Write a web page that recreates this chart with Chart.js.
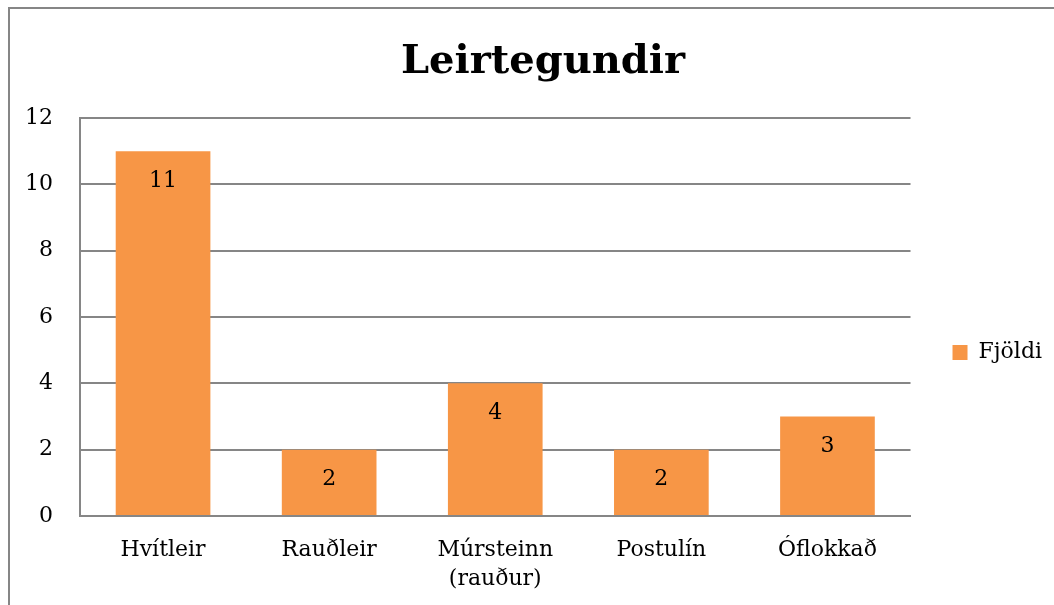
<!DOCTYPE html>
<html>
<head>
<meta charset="utf-8">
<script src="https://cdn.jsdelivr.net/npm/chart.js@4.4.1/dist/chart.umd.min.js"></script>
<style>
  html, body { margin: 0; padding: 0; background: #fff; }
  #wrap { position: relative; width: 1054px; height: 605px; overflow: hidden; }
  #frame { position: absolute; left: 8px; top: 7px; width: 1100px; height: 700px; border: 2px solid #868686; box-sizing: border-box; }
  canvas { position: absolute; left: 0; top: 0; }
</style>
</head>
<body>
<div id="wrap">
  <div id="frame"></div>
  <canvas id="c" width="1054" height="605"></canvas>
</div>
<script>
const categories = ["Hvítleir", "Rauðleir", ["Múrsteinn", "(rauður)"], "Postulín", "Óflokkað"];
const seriesName = "Fjöldi";
const values = [11, 2, 4, 2, 3];
const yTicks = [0, 2, 4, 6, 8, 10, 12];

const FONT = "'DejaVu Serif', serif";
const GRID = "#868686";
const BAR = "#F79646";

const dataLabels = {
  id: 'dataLabels',
  afterDatasetsDraw(chart) {
    const ctx = chart.ctx;
    const meta = chart.getDatasetMeta(0);
    ctx.save();
    ctx.font = "22px " + FONT;
    ctx.fillStyle = "#000";
    ctx.textAlign = "center";
    ctx.textBaseline = "middle";
    meta.data.forEach((bar, i) => {
      ctx.fillText(String(values[i]), bar.x, bar.y + 30);
    });
    ctx.restore();
  }
};

const boxShift = {
  id: 'boxShift',
  afterLayout(chart) {
    const lg = chart.legend;
    if (lg) {
      lg.left += 32; lg.right += 32;
      lg.top += 50; lg.bottom += 50;
    }
    const tb = chart.titleBlock;
    if (tb) {
      tb.left += 33; tb.right += 33;
    }
  }
};

new Chart(document.getElementById('c'), {
  type: 'bar',
  data: {
    labels: categories,
    datasets: [{
      label: seriesName,
      data: values,
      backgroundColor: BAR,
      borderWidth: 0,
      barPercentage: 0.57,
      categoryPercentage: 1.0
    }]
  },
  options: {
    responsive: false,
    animation: false,
    devicePixelRatio: 1,
    layout: { padding: { top: 0, right: 34, bottom: 0, left: 0 } },
    plugins: {
      title: {
        display: true,
        text: "Leirtegundir",
        color: "#000",
        font: { family: FONT, size: 40, weight: 'bold' },
        padding: { top: 39, bottom: 31 }
      },
      legend: {
        display: true,
        position: 'right',
        labels: {
          color: "#000",
          font: { family: FONT, size: 22 },
          boxWidth: 15,
          boxHeight: 15,
          padding: 10
        }
      },
      tooltip: { enabled: false }
    },
    scales: {
      x: {
        grid: { display: false, drawTicks: false },
        border: { display: true, color: GRID, width: 2 },
        ticks: {
          color: "#000",
          font: { family: FONT, size: 22, lineHeight: 1.3 },
          padding: 20,
          maxRotation: 0
        },
        afterFit(scale) { scale.height = 89; }
      },
      y: {
        min: 0,
        max: 12,
        afterBuildTicks(scale) { scale.ticks = yTicks.map(v => ({ value: v })); },
        grid: { color: GRID, lineWidth: 2, drawTicks: false },
        border: { display: true, color: GRID, width: 2 },
        ticks: {
          color: "#000",
          font: { family: FONT, size: 22 },
          padding: 27
        },
        afterFit(scale) { scale.width = 80; }
      }
    }
  },
  plugins: [dataLabels, boxShift]
});
</script>
</body>
</html>
